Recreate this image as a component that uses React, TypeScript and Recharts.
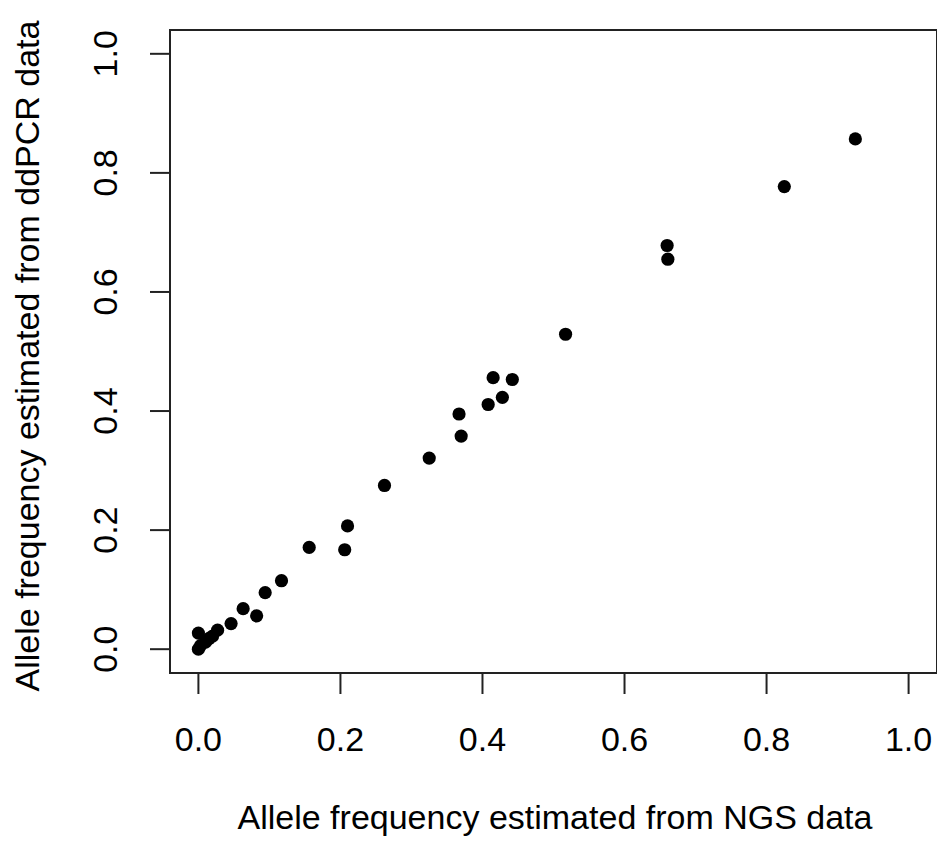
import { ScatterChart, Scatter, XAxis, YAxis, ReferenceArea, Label } from 'recharts'

// allele frequency, NGS (x) vs ddPCR (y)
const ngs = [
  0.0, 0.003, 0.01, 0.015, 0.0, 0.02, 0.027, 0.046, 0.063, 0.082, 0.094, 0.117,
  0.156, 0.206, 0.21, 0.262, 0.325, 0.367, 0.37, 0.408, 0.415, 0.428, 0.442,
  0.517, 0.66, 0.661, 0.825, 0.925,
]
const ddpcr = [
  0.0, 0.006, 0.012, 0.018, 0.027, 0.022, 0.032, 0.043, 0.068, 0.056, 0.095, 0.115,
  0.171, 0.167, 0.207, 0.275, 0.321, 0.395, 0.358, 0.411, 0.456, 0.423, 0.453,
  0.529, 0.678, 0.655, 0.777, 0.857,
]
const ticks = [0, 0.2, 0.4, 0.6, 0.8, 1.0]

const data = ngs.map((x, i) => ({ x, y: ddpcr[i] }))

const font = '"Liberation Sans", Arial, sans-serif'
const fs = 34

const XTick = ({ x, y, payload }: any) => (
  <text x={x} y={y + 57} textAnchor="middle" fontFamily={font} fontSize={fs} fill="#000">
    {payload.value.toFixed(1)}
  </text>
)

const YTick = ({ x, y, payload }: any) => (
  <text
    x={x - 33}
    y={y}
    transform={`rotate(-90, ${x - 33}, ${y})`}
    textAnchor="middle"
    fontFamily={font}
    fontSize={fs}
    fill="#000"
  >
    {payload.value.toFixed(1)}
  </text>
)

const Dot = (p: any) => <circle cx={p.cx} cy={p.cy} r={6.6} fill="#000" />

export default function App() {
  return (
    <div style={{ position: 'absolute', left: 0, top: 0, background: '#fff' }}>
      <ScatterChart width={937} height={844} margin={{ top: 30, right: 0, bottom: 0, left: 0 }}>
        <XAxis
          type="number"
          dataKey="x"
          domain={[-0.04, 1.04]}
          ticks={ticks}
          height={171}
          tickSize={21}
          tickMargin={0}
          tickLine={{ stroke: '#222', strokeWidth: 2 }}
          axisLine={false}
          tick={<XTick />}
          allowDataOverflow
        >
          <Label
            content={() => (
              <text x={555} y={829} textAnchor="middle" fontFamily={font} fontSize={fs} fill="#000">
                Allele frequency estimated from NGS data
              </text>
            )}
          />
        </XAxis>
        <YAxis
          type="number"
          dataKey="y"
          domain={[-0.04, 1.04]}
          ticks={ticks}
          width={170}
          tickSize={20}
          tickMargin={0}
          tickLine={{ stroke: '#222', strokeWidth: 2 }}
          axisLine={false}
          tick={<YTick />}
          allowDataOverflow
        >
          <Label
            content={() => (
              <text
                x={39}
                y={356}
                transform="rotate(-90, 39, 356)"
                textAnchor="middle"
                fontFamily={font}
                fontSize={fs}
                fill="#000"
              >
                Allele frequency estimated from ddPCR data
              </text>
            )}
          />
        </YAxis>
        <ReferenceArea
          x1={-0.04}
          x2={1.04}
          y1={-0.04}
          y2={1.04}
          fill="none"
          stroke="#222"
          strokeWidth={2}
          ifOverflow="visible"
        />
        <Scatter data={data} shape={<Dot />} isAnimationActive={false} />
      </ScatterChart>
    </div>
  )
}
